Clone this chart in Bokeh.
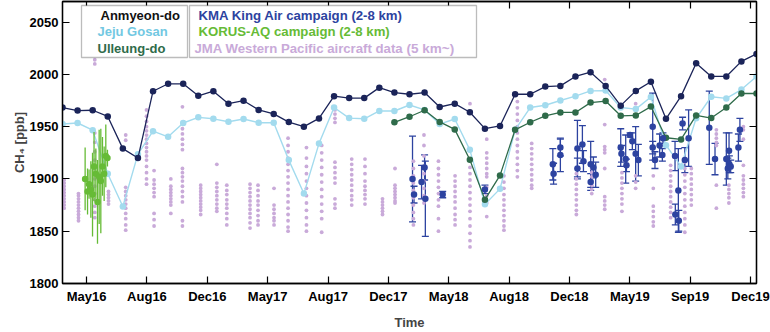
from bokeh.plotting import figure
from bokeh.models import (ColumnDataSource, Range1d, LinearAxis, FixedTicker,
                          Whisker, TeeHead, Label, BoxAnnotation)
from bokeh.embed import file_html
from bokeh.resources import INLINE

FONT = "Liberation Sans"

# ---------------- data ----------------
tick_labels = ["May16", "Aug16", "Dec16", "May17", "Aug17", "Dec17",
               "May18", "Aug18", "Dec18", "May19", "Sep19", "Dec19"]
y_ticks = [1800, 1850, 1900, 1950, 2000, 2050]

# monthly station means, month index 0 .. 46
anmyeon = [1968.3, 1965.4, 1965.7, 1959.8, 1929.0, 1920.0, 1983.9, 1991.0, 1991.0,
           1979.5, 1983.9, 1972.0, 1974.8, 1966.0, 1962.2, 1954.4, 1950.0, 1957.9,
           1979.2, 1977.3, 1977.3, 1987.3, 1982.6, 1981.0, 1982.6, 1968.8, 1972.0,
           1963.8, 1948.1, 1950.7, 1981.0, 1981.0, 1988.3, 1989.0, 1998.0, 2002.1,
           1989.0, 1970.1, 1984.2, 1993.0, 1957.5, 1979.2, 2010.6, 1998.0, 1998.0,
           2012.4, 2019.6]
jeju = [1952.5, 1953.5, 1946.6, 1904.9, 1873.6, 1923.7, 1945.7, 1940.3, 1953.5,
        1958.9, 1957.5, 1954.7, 1957.3, 1953.8, 1953.8, 1918.0, 1886.0, 1933.8,
        1968.3, 1958.2, 1957.5, 1965.0, 1965.0, 1970.7, 1966.0, 1952.5, 1957.3,
        1927.8, 1875.8, 1890.5, 1947.0, 1968.3, 1970.5, 1975.0, 1979.2, 1984.2,
        1984.5, 1968.3, 1966.8, 1978.3, 1932.3, 1912.0, 1958.0, 1978.6, 1977.0,
        1985.5, 1998.0]
ulleung_first_month = 22
ulleung = [1954.2, 1959.5, 1965.7, 1954.5, 1947.4, 1918.4, 1880.2, 1903.4, 1947.0,
           1954.2, 1960.4, 1963.6, 1963.6, 1973.0, 1974.5, 1960.4, 1960.7, 1969.2,
           1939.4, 1937.8, 1960.7, 1958.2, 1968.3, 1981.7, 1981.7]

# KORUS-AQ aircraft profiles (2-8 km)
korus_month = [1.50, 1.66, 1.76, 1.88, 1.99, 2.09, 2.21, 2.32, 2.43, 2.54, 2.65, 2.76, 2.87, 2.98]
korus_ppb = [1900, 1888, 1895, 1890, 1885, 1912, 1905, 1878, 1902, 1898, 1912, 1905, 1922, 1920]
korus_err = [30, 22, 14, 27, 40, 33, 24, 40, 45, 50, 28, 26, 30, 8]

# KMA King Air campaign (2-8 km)
kma_month = [23.2, 23.3, 23.8, 24.0, 24.05, 25.2, 28.0,
             32.5, 32.55, 33.0, 33.0,
             34.13, 34.13, 34.46, 34.53, 35.01, 35.01, 35.19, 35.34,
             37.0, 37.05, 37.33, 37.38, 37.62, 37.77, 37.99, 38.17,
             39.12, 39.12, 39.27, 39.58, 39.76, 39.8,
             40.6, 40.62, 40.82, 40.85, 41.1, 41.25, 41.5,
             42.87, 43.25,
             44.0, 44.1, 44.18, 44.2, 44.29,
             44.8, 44.9]
kma_ppb = [1900, 1885, 1897, 1911, 1881, 1885, 1890,
           1914, 1905, 1930, 1923,
           1929, 1910, 1933, 1917, 1914, 1897, 1911, 1904,
           1930, 1924, 1919, 1913, 1942, 1936, 1924, 1918,
           1950, 1930, 1918, 1932, 1923, 1939,
           1922, 1866, 1889, 1860, 1953, 1918, 1939,
           1949, 1919,
           1919, 1910, 1927, 1914, 1912,
           1930, 1947]
kma_err = [41, 8, 16, 12, 36, 3, 4,
           15, 10, 8, 16,
           27, 10, 18, 10, 22, 8, 10, 12,
           18, 8, 23, 6, 2, 8, 26, 15,
           32, 6, 8, 11, 6, 5,
           14, 10, 40, 10, 6, 12, 27,
           35, 15,
           25, 10, 17, 8, 6,
           13, 11]

# JMA Western Pacific aircraft data (5 km~): one column per sampling month
jma_month = [0.11, 1.06, 2.14, 3.05, 4.19, 5.57, 6.07, 7.18, 7.95, 9.16, 10.23,
             10.89, 12.43, 12.96, 14.02, 14.95, 16.17, 17.18, 18.06, 19.17, 20.05,
             21.21, 22.04, 23.26, 23.96, 24.92, 26.02, 27.01, 28.12, 29.26, 30.15,
             31.10, 34.06, 35.08, 35.94, 37.08, 37.99, 39.16, 40.31, 41.25, 41.68,
             43.34, 44.17, 45.13]
jma_ppb = [
    [1872, 1875, 1878, 1881, 1884, 1887, 1890, 1893, 1896, 1899],
    [1860, 1863, 1866, 1869, 1872, 1875, 1878, 1881, 1884, 1886],
    [2014, 2010, 1944, 1935, 1926, 1918, 1910, 1900, 1893, 1886, 1880, 1874, 1868, 1863],
    [1876, 1879, 1882, 1885, 1888],
    [1942, 1937, 1892, 1888, 1884, 1880, 1876, 1872, 1867, 1862, 1856, 1851],
    [1966, 1960, 1955, 1950, 1946, 1942, 1938, 1934, 1930, 1926, 1922, 1918, 1912, 1906, 1900, 1895],
    [1908, 1899, 1895, 1891, 1887, 1883, 1867, 1861, 1855],
    [1900, 1893, 1890, 1887, 1884, 1881, 1878, 1875, 1867],
    [1969, 1953, 1948, 1943, 1938, 1933, 1928, 1910, 1906, 1902, 1898, 1893, 1888, 1883, 1878, 1860, 1855],
    [1894, 1891, 1888, 1885, 1882, 1879, 1876, 1873, 1870, 1866],
    [1914, 1896, 1892, 1888, 1884, 1880, 1876, 1872, 1869],
    [1894, 1889, 1885, 1880, 1876, 1872, 1867, 1862, 1856],
    [1895, 1891, 1887, 1883, 1879, 1875, 1871, 1867, 1863, 1858, 1853],
    [1894, 1889, 1884, 1879, 1875, 1870, 1865, 1860, 1856],
    [1891, 1875, 1871, 1867, 1863, 1860, 1856],
    [1939, 1932, 1926, 1920, 1914, 1908, 1902, 1896, 1890, 1884, 1878, 1872, 1866, 1860, 1854, 1850],
    [1930, 1920, 1912, 1905, 1898, 1891, 1884, 1877, 1870, 1863, 1856, 1850],
    [1932, 1925, 1918, 1911, 1904, 1897, 1890, 1883, 1876, 1869, 1862, 1849],
    [1966, 1962, 1958, 1954, 1916, 1911, 1906, 1901, 1896, 1881, 1876, 1872],
    [1919, 1914, 1909, 1904, 1899, 1894, 1889, 1884, 1880, 1875],
    [1919, 1912, 1905, 1898, 1893, 1889, 1885, 1881, 1876],
    [1881, 1878, 1875, 1872, 1869, 1866],
    [1910, 1894, 1891, 1888, 1885, 1882, 1879, 1877],
    [1917, 1910, 1903, 1896, 1889, 1882, 1875, 1868, 1862, 1856],
    [1942, 1932, 1922, 1912, 1905, 1898, 1891, 1884, 1877],
    [1917, 1910, 1904, 1898, 1892, 1886, 1880, 1874, 1862, 1850],
    [1903, 1898, 1893, 1888, 1883, 1878, 1872, 1866, 1861, 1856],
    [1972, 1911, 1905, 1899, 1893, 1887, 1881, 1875, 1869, 1862, 1855, 1848, 1841, 1835],
    [1938, 1925, 1920, 1915, 1910, 1905, 1902, 1892, 1884, 1877, 1864],
    [1903, 1897, 1891, 1885, 1880, 1875, 1870, 1865, 1860, 1855, 1851],
    [1974, 1968, 1962, 1956, 1950, 1944, 1938, 1932, 1926, 1920, 1914, 1908, 1902],
    [1934, 1929, 1924, 1919, 1914, 1909, 1904, 1899, 1894, 1891],
    [1910, 1905, 1900, 1895, 1890, 1885, 1880, 1875, 1870, 1866],
    [1910, 1906, 1902, 1898, 1894, 1890, 1886],
    [1995, 1952, 1931, 1928, 1925, 1910, 1883, 1879, 1875, 1871],
    [1906, 1901, 1896, 1891, 1886, 1881, 1876, 1869],
    [1972, 1903, 1897, 1891],
    [1903, 1891, 1874, 1869, 1864, 1859, 1855],
    [1913, 1908, 1903, 1898, 1893, 1888, 1883, 1878, 1873, 1868, 1863],
    [1916, 1910, 1904, 1898, 1892, 1886, 1880, 1874, 1868, 1862, 1856, 1849],
    [1910, 1905, 1900, 1895, 1890, 1885, 1880, 1875],
    [1947, 1943, 1939, 1935, 1932, 1894, 1872],
    [1894, 1890, 1886, 1882, 1877],
    [1950, 1947, 1938, 1913, 1903, 1899, 1895, 1891, 1887, 1883],
]

# ---------------- colours ----------------
C_ANM = "#1b2459"
C_JEJU = "#a3dbee"
C_ULL = "#2f6b4a"
C_KMA = "#2d43a0"
C_KORUS = "#66bb36"
C_JMA = "#c9aad9"

# ---------------- figure ----------------
p = figure(width=770, height=332, output_backend="svg", toolbar_location=None,
           x_range=Range1d(0, 46), y_range=Range1d(1800, 2069.7),
           min_border_left=62, min_border_right=14, min_border_top=1,
           min_border_bottom=44, background_fill_color="white",
           border_fill_color="white")
p.xgrid.grid_line_color = None
p.ygrid.grid_line_color = None
p.outline_line_color = "black"
p.outline_line_width = 1.3

x_tick_pos = [1.6 + 4 * i for i in range(len(tick_labels))]
xt = FixedTicker(ticks=x_tick_pos)
yt = FixedTicker(ticks=y_ticks)


def style_axis(ax, show_labels=True):
    ax.major_tick_in = 7
    ax.major_tick_out = 0
    ax.minor_tick_in = 0
    ax.minor_tick_out = 0
    ax.axis_line_color = "black"
    ax.axis_line_width = 1.3
    ax.major_tick_line_color = "black"
    ax.major_tick_line_width = 1.2
    ax.major_label_text_font = FONT
    ax.major_label_text_font_style = "bold"
    ax.major_label_text_font_size = "13px"
    ax.major_label_text_color = "black"
    if not show_labels:
        # mirrored tick marks only: no labels drawn
        ax.major_label_text_font_size = "1px"
        ax.major_label_text_color = None
        ax.major_label_standoff = 0


xa = p.xaxis[0]
xa.ticker = xt
xa.major_label_overrides = {t: lab for t, lab in zip(x_tick_pos, tick_labels)}
style_axis(xa)
xa.major_label_standoff = 5
xa.axis_label = "Time"
xa.axis_label_text_font = FONT
xa.axis_label_text_font_style = "bold"
xa.axis_label_text_font_size = "13px"
xa.axis_label_standoff = 8

ya = p.yaxis[0]
ya.ticker = yt
style_axis(ya)
ya.major_label_standoff = 4
ya.axis_label = "CH\u2084 [ppb]"
ya.axis_label_text_font = FONT
ya.axis_label_text_font_style = "bold"
ya.axis_label_text_font_size = "13px"
ya.axis_label_standoff = 0

top = LinearAxis(ticker=xt)
style_axis(top, show_labels=False)
p.add_layout(top, "above")
right = LinearAxis(ticker=yt)
style_axis(right, show_labels=False)
p.add_layout(right, "right")

# ---------------- glyphs ----------------
jx, jy = [], []
for m, vals in zip(jma_month, jma_ppb):
    for v in vals:
        jx.append(m)
        jy.append(v)
p.scatter(jx, jy, size=3.8, color=C_JMA, line_color=None)

months = list(range(len(anmyeon)))
p.line(months, jeju, color=C_JEJU, line_width=1.4)
p.scatter(months, jeju, size=6.5, color=C_JEJU, line_color=None)

ull_months = months[ulleung_first_month:]
p.line(ull_months, ulleung, color=C_ULL, line_width=1.3)
p.scatter(ull_months, ulleung, size=6.5, color=C_ULL, line_color=None)

p.line(months, anmyeon, color=C_ANM, line_width=1.3)
p.scatter(months, anmyeon, size=6.5, color=C_ANM, line_color=None)

k_lo = [v - e for v, e in zip(korus_ppb, korus_err)]
k_hi = [v + e for v, e in zip(korus_ppb, korus_err)]
p.segment(korus_month, k_lo, korus_month, k_hi, color=C_KORUS, line_width=1.3)
p.scatter(korus_month, korus_ppb, size=6.5, color=C_KORUS, line_color=None)

kma_src = ColumnDataSource(dict(
    x=kma_month, y=kma_ppb,
    lo=[v - e for v, e in zip(kma_ppb, kma_err)],
    hi=[v + e for v, e in zip(kma_ppb, kma_err)]))
p.add_layout(Whisker(source=kma_src, base="x", upper="hi", lower="lo",
                     line_color=C_KMA, line_width=1.3,
                     upper_head=TeeHead(size=7, line_color=C_KMA, line_width=1.3),
                     lower_head=TeeHead(size=7, line_color=C_KMA, line_width=1.3)))
p.scatter("x", "y", source=kma_src, size=6.5, color=C_KMA, line_color=None)

# ---------------- legend boxes ----------------
FB = 288  # frame bottom on canvas
FL = 62   # frame left on canvas

for l, r in [(81, 187), (189, 476)]:
    p.add_layout(BoxAnnotation(left=l - FL, right=r - FL, top=FB - 10, bottom=FB - 62,
                               left_units="screen", right_units="screen",
                               top_units="screen", bottom_units="screen",
                               fill_color="white", fill_alpha=1.0,
                               line_color="#222222", line_width=1.3))

legend_texts = [
    ("Anmyeon-do", 100, 19.5, "#111111", "13px"),
    ("Jeju Gosan", 97, 35.5, "#72c8e2", "13px"),
    ("Ulleung-do", 97, 52.5, C_ULL, "13px"),
    ("KMA King Air campaign (2-8 km)", 198, 19.5, C_KMA, "13.2px"),
    ("KORUS-AQ campaign (2-8 km)", 198, 35.5, "#66bb36", "13.2px"),
    ("JMA Western Pacific aircraft data", 194, 53, "#c9aad9", "13.2px"),
    ("(5 km~)", 406, 52.5, "#c9aad9", "13.5px"),
]
for txt, cx, cy, col, fs in legend_texts:
    p.add_layout(Label(x=cx - FL, y=FB - cy, x_units="screen", y_units="screen",
                       text=txt, text_font=FONT, text_font_style="bold",
                       text_font_size=fs, text_color=col,
                       text_align="left", text_baseline="middle"))

open("out.html", "w").write(file_html(p, INLINE))
